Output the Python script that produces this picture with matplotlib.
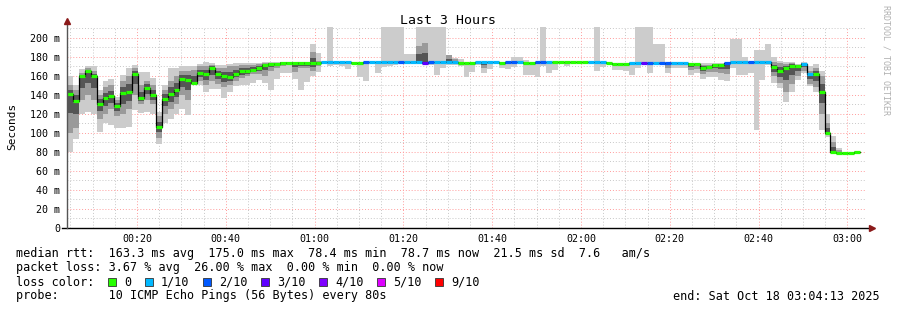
import numpy as np
import matplotlib
matplotlib.use("Agg")
import matplotlib.pyplot as plt
from matplotlib.ticker import MultipleLocator, FixedLocator
from matplotlib.patches import Rectangle

plt.rcParams['font.family'] = ['DejaVu Sans Mono']

# sampling: 10 pings every 80 s, graph starts 00:04:13
start_min = 4 + 13 / 60
step_min = 80 / 60

# median rtt per step (ms)
median = [
    141, 134, 160, 165, 160, 131, 137, 139, 128, 142, 143, 162, 137, 147, 140, 106, 136, 141, 145, 156.5,
    156, 153, 163, 162, 168, 162, 160, 159, 162, 165, 165, 166, 168, 172, 173, 173, 174, 174, 174, 173.5,
    173.5, 173.5, 173.5, 174.5, 174.5, 174.5, 174.5, 174.5, 174, 174, 174.5, 174.5, 174.5, 174.5, 174.5, 174.5, 174.5, 174.5, 174.5, 174.5,
    174, 174.5, 174.5, 174.5, 174.5, 174.5, 174, 174, 174, 174.5, 174.5, 174.5, 174.5, 174, 174.5, 174.5, 174.5, 174, 174, 174.5,
    174.5, 174.5, 174.5, 174.5, 174.5, 174.5, 174.5, 174.5, 174.5, 174.5, 174.5, 174, 173, 173, 173, 174, 174, 174, 174, 174,
    174, 174, 174, 174, 174, 173, 173, 168.7, 169.8, 172, 172, 173.5, 174.4, 174.4, 174.4, 174.5, 174.5, 174.5, 174.5, 169,
    165.5, 168, 170.5, 170, 173, 162, 162, 143.5, 99.6, 80.3, 78.6, 78.6, 78.6, 79.8,
]

# lost pings out of 10 per step
loss = [
    0, 0, 0, 0, 0, 0, 0, 0, 0, 0, 0, 0, 0, 0, 0, 0, 0, 0, 0, 0,
    0, 0, 0, 0, 0, 0, 0, 0, 0, 0, 0, 0, 0, 0, 0, 0, 0, 0, 0, 0,
    0, 0, 0, 1, 1, 1, 1, 1, 0, 0, 2, 1, 1, 1, 1, 1, 2, 1, 1, 1,
    3, 2, 1, 1, 1, 1, 0, 0, 0, 1, 1, 1, 1, 0, 2, 2, 1, 0, 0, 2,
    2, 1, 0, 0, 0, 0, 0, 0, 1, 1, 1, 0, 0, 0, 0, 1, 1, 3, 2, 1,
    2, 2, 1, 1, 1, 0, 0, 0, 0, 0, 0, 2, 1, 1, 1, 2, 1, 1, 1, 0,
    0, 0, 0, 0, 1, 1, 0, 0, 0, 0, 0, 0, 0, 0,
]

# smoke: fastest / slowest ping per step
lo = [
    80, 94, 120, 122, 120, 101, 110, 108, 105, 105, 106, 124, 121, 122, 120, 88, 110, 115, 120, 125,
    119, 150, 150, 143, 146, 146, 137, 143, 149, 150, 150, 153, 156, 153, 145, 157, 163, 163, 157, 145,
    154, 160, 164.5, 173, 170, 172, 170, 167.5, 174, 159, 154.7, 174.5, 163, 169, 170, 171, 173, 173, 173, 173,
    173, 172, 161, 168, 171, 172, 170, 159, 164.5, 172, 163, 167, 174.5, 168, 167, 169.6, 174.5, 161, 161, 159,
    170, 163, 166, 174.5, 170, 174.5, 174.5, 174.5, 174.5, 165.6, 169.6, 174, 166, 166, 165, 161, 168, 174, 162.6, 174,
    174, 163, 168, 168, 168, 161, 163, 156.5, 159, 158.5, 156, 155, 168, 161, 161, 163, 103, 156, 172, 152.6,
    147, 133, 143.5, 156, 163, 149.5, 143.5, 103, 96, 79, 78, 78, 78.6, 79,
]
hi = [
    160, 150, 167, 170, 170, 145, 155, 157, 138, 161, 168, 172, 164, 164, 158, 122, 150, 168, 168, 170,
    170, 170, 173, 175, 174, 172, 172, 173, 174, 174, 174, 174, 174, 175, 175, 175, 175, 175, 175, 175,
    175, 194, 184, 175.5, 215, 175, 175, 175, 174, 174.5, 175, 174.5, 175, 215, 215, 215, 215, 183, 183, 215,
    215, 215, 215, 215, 182, 179, 177.5, 174.5, 174.5, 175, 175, 175, 174.5, 174.5, 175, 180, 180, 176.5, 174.5, 175,
    215, 175, 175, 174.5, 175, 174.5, 174.5, 174.5, 174.5, 215, 175, 174, 173.5, 173.5, 174, 174.5, 215, 215, 215, 193.7,
    193.7, 174.5, 174.5, 174.5, 174.5, 174, 174, 174, 174, 174, 174, 174, 198.6, 198.6, 180, 175, 187, 187, 194, 180,
    176, 175, 175, 173, 175, 170, 173, 165, 120, 97, 84, 79.5, 79, 81,
]

# inner smoke band (darker grey)
lo_in = [
    100, 105, 135, 140, 135, 115, 120, 125, 118, 120, 125, 140, 130, 135, 130, 95, 120, 125, 130, 140,
    135, 152, 155, 150, 155, 152, 148, 150, 155, 158, 160, 162, 162, 160, 165, 168, 170, 172, 164, 168,
    168, 165, 170, 174.5, 174.5, 174.5, 174.5, 174.5, 174, 174, 174.5, 174.5, 174.5, 174.5, 174.5, 174.5, 174.5, 174.5, 174.5, 174.5,
    174, 174.5, 174.5, 174.5, 174.5, 174.5, 174, 174, 174, 174.5, 168, 174.5, 174.5, 174, 174.5, 174.5, 174.5, 174, 174, 174.5,
    174.5, 174.5, 174.5, 174.5, 174.5, 174.5, 174.5, 174.5, 174.5, 174.5, 174.5, 174, 173, 173, 173, 174, 174, 174, 174, 174,
    174, 168, 174, 174, 174, 166, 167, 162, 164, 164, 163, 162, 174.4, 174.4, 174.4, 174.5, 174.5, 174.5, 174.5, 160,
    153, 143, 152, 160, 165, 152, 148, 120, 98, 80, 78.5, 78.6, 78.6, 79.8,
]
hi_in = [
    150, 145, 163, 168, 165, 140, 148, 150, 135, 155, 160, 168, 150, 155, 150, 118, 145, 155, 160, 165,
    165, 166, 170, 170, 172, 168, 168, 170, 170, 172, 172, 172, 173, 174, 174, 174, 175, 175, 175, 175,
    175, 185, 176, 174.5, 174.5, 174.5, 174.5, 174.5, 174, 174, 174.5, 174.5, 174.5, 174.5, 174.5, 174.5, 174.5, 174.5, 174.5, 191,
    195, 174.5, 174.5, 174.5, 182, 178, 174, 174, 174, 174.5, 174.5, 174.5, 174.5, 174, 174.5, 174.5, 174.5, 174, 174, 174.5,
    174.5, 174.5, 174.5, 174.5, 174.5, 174.5, 174.5, 174.5, 174.5, 174.5, 174.5, 174, 173, 173, 173, 174, 174, 174, 174, 174,
    174, 174, 174, 174, 174, 173, 173, 172, 172, 173, 173, 173.5, 174.4, 174.4, 174.4, 174.5, 174.5, 174.5, 174.5, 175,
    174, 173, 174, 172, 174, 165, 168, 160, 110, 90, 82, 78.6, 78.6, 79.8,
]

loss_colors = {0: '#26ff00', 1: '#00b8ff', 2: '#0059ff', 3: '#5e00ff',
               4: '#7e00ff', 5: '#dd00ff', 9: '#ff0000'}
legend_labels = ['0', '1/10', '2/10', '3/10', '4/10', '5/10', '9/10']

hour_ticks = [20, 40, 60, 80, 100, 120, 140, 160, 180]
hour_labels = ['00:20', '00:40', '01:00', '01:20', '01:40', '02:00', '02:20', '02:40', '03:00']
y_ticks = [0, 20, 40, 60, 80, 100, 120, 140, 160, 180, 200]
y_labels = ['0', '20 m', '40 m', '60 m', '80 m', '100 m', '120 m', '140 m', '160 m', '180 m', '200 m']

W, H = 897, 310
fig = plt.figure(figsize=(W / 100, H / 100), dpi=100)
ax = fig.add_axes([67 / W, 82 / H, 799 / W, 201 / H])

med = np.array(median, dtype=float)
lo = np.array(lo, dtype=float)
hi = np.array(hi, dtype=float)
lo_in = np.array(lo_in, dtype=float)
hi_in = np.array(hi_in, dtype=float)
n = len(med)
t = start_min + step_min * np.arange(n + 1)


def ext(a):
    return np.append(a, a[-1])


# smoke layers, light to dark
ax.fill_between(t, ext(lo), ext(hi), step='post', color='#cccccc', lw=0, zorder=2)
ax.fill_between(t, ext(lo_in), ext(hi_in), step='post', color='#9a9a9a', lw=0, zorder=3)
ax.fill_between(t, ext((lo_in + med) / 2), ext((hi_in + med) / 2), step='post',
                color='#555555', lw=0, zorder=4)

# median line
ax.step(t, ext(med), where='post', color='black', lw=0.9, zorder=5)
ax.hlines(med, t[:-1], t[1:], colors=[loss_colors[l] for l in loss], lw=2.3, zorder=6)

ax.set_xlim(start_min, start_min + 180)
ax.set_ylim(0, 211.5)

ax.xaxis.set_major_locator(FixedLocator(hour_ticks))
ax.xaxis.set_minor_locator(MultipleLocator(5))
ax.set_xticklabels(hour_labels)
ax.yaxis.set_major_locator(FixedLocator(y_ticks))
ax.yaxis.set_minor_locator(MultipleLocator(10))
ax.set_yticklabels(y_labels)
ax.tick_params(which='both', length=0, labelsize=7.2)
ax.tick_params(axis='y', pad=5)
ax.tick_params(axis='x', pad=4)

ax.grid(which='minor', color='#c8c8c8', linestyle=(0, (1, 2)), lw=0.7)
ax.grid(which='major', color='#ff9c9c', linestyle=(0, (1, 2)), lw=0.7)
ax.set_axisbelow(True)
for s in ax.spines.values():
    s.set_visible(False)

# axes with arrows
ax.plot([-5 / 799, 1.006], [0, 0], transform=ax.transAxes, color='black', lw=1, clip_on=False, zorder=7)
ax.plot([0, 0], [0, 1.025], transform=ax.transAxes, color='#555555', lw=1, clip_on=False, zorder=7)
ax.plot([1.008], [0], transform=ax.transAxes, marker='>', ms=4, color='#8b1a1a', clip_on=False, zorder=8)
ax.plot([0], [1.03], transform=ax.transAxes, marker='^', ms=4, color='#8b1a1a', clip_on=False, zorder=8)

fig.text(448 / W, 1 - 20 / H, 'Last 3 Hours', ha='center', va='center', fontsize=9.5)
fig.text(12 / W, 1 - 126 / H, 'Seconds', rotation=90, ha='center', va='center', fontsize=8)
fig.text(886 / W, 1 - 5 / H, 'RRDTOOL / TOBI OETIKER', rotation=270, ha='center', va='top',
         fontsize=6, color='#b0b0b0')

fs = 8.5
fig.text(16 / W, 1 - 254 / H,
         'median rtt:  163.3 ms avg  175.0 ms max  78.4 ms min  78.7 ms now  21.5 ms sd  7.6   am/s',
         va='center', fontsize=fs)
fig.text(16 / W, 1 - 268 / H,
         'packet loss: 3.67 % avg  26.00 % max  0.00 % min  0.00 % now',
         va='center', fontsize=fs)
fig.text(16 / W, 1 - 282 / H, 'loss color:', va='center', fontsize=fs)
box_x = [108, 145, 203, 261, 319, 377, 435]
for bx, lab, key in zip(box_x, legend_labels, [0, 1, 2, 3, 4, 5, 9]):
    fig.patches.append(Rectangle((bx / W, 1 - 286 / H), 8 / W, 8 / H, transform=fig.transFigure,
                                 facecolor=loss_colors[key], edgecolor='#333333', lw=0.6))
    fig.text((bx + 16) / W, 1 - 282 / H, lab, va='center', fontsize=fs)
fig.text(16 / W, 1 - 296 / H, 'probe:       10 ICMP Echo Pings (56 Bytes) every 80s',
         va='center', fontsize=fs)
fig.text(880 / W, 1 - 296 / H, 'end: Sat Oct 18 03:04:13 2025', ha='right', va='center', fontsize=fs)

fig.savefig('out.png', dpi=100)
plt.close(fig)
